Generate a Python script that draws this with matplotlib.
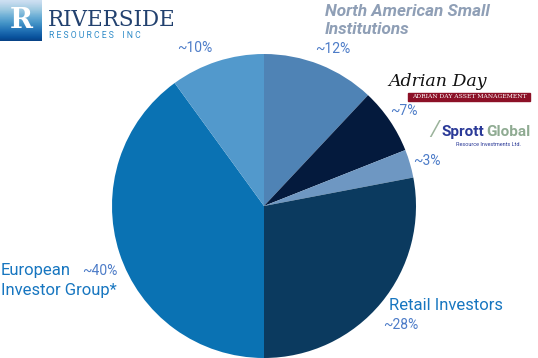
import numpy as np
import matplotlib.pyplot as plt
from matplotlib.patches import Rectangle

plt.rcParams['font.family'] = ['Roboto', 'DejaVu Sans']

# slices, clockwise from 12 o'clock
groups = ['North American Small Institutions', 'Adrian Day', 'Sprott Global',
          'Retail Investors', 'European Investor Group*', 'Other']
shares = [12, 7, 3, 28, 40, 10]
share_labels = ['~12%', '~7%', '~3%', '~28%', '~40%', '~10%']
colors = ['#4f83b5', '#041a3d', '#6e97c2', '#0b3a5f', '#0a72b3', '#5299cc']

W, H = 538, 358
fig = plt.figure(figsize=(W / 100, H / 100), dpi=100)

# pie centre (264, 206) px, radius 152 px
cx, cy, r = 264, 206, 152
ax = fig.add_axes([(cx - r) / W, (H - cy - r) / H, 2 * r / W, 2 * r / H])
ax.pie(shares, colors=colors, startangle=90, counterclock=False, radius=1,
       wedgeprops=dict(linewidth=0))
ax.set_xlim(-1, 1)
ax.set_ylim(-1, 1)
ax.set_aspect('equal')
ax.axis('off')


def px(x, y, s, **kw):
    fig.text(x / W, 1 - y / H, s, **kw)


pct_col = '#4d7cc8'
name_col = '#1776c0'

# category names
px(325, 11, 'North American Small', fontsize=12.3, style='italic', weight='bold',
   color='#8f9fb6', va='center')
px(325, 30, 'Institutions', fontsize=12.3, style='italic', weight='bold',
   color='#8f9fb6', va='center')
px(1, 270, 'European', fontsize=12, color=name_col, va='center')
px(1, 291, 'Investor Group*', fontsize=12, color=name_col, va='center')
px(389, 305, 'Retail Investors', fontsize=12, color=name_col, va='center')

# percentage labels
pos = [(315, 49), (390, 111), (413, 161), (383, 325), (82, 271), (177, 48)]
for (x, y), s in zip(pos, share_labels):
    px(x, y, s, fontsize=10, color=pct_col, va='center')

# Riverside logo (approximation)
lax = fig.add_axes([0, 1 - 41 / H, 42 / W, 41 / H])
grad = np.linspace(0, 1, 50).reshape(-1, 1)
lax.imshow(grad, cmap='Blues', aspect='auto', extent=[0, 1, 0, 1], vmin=-0.3, vmax=1.1)
lax.text(0.5, 0.5, 'R', color='white', fontsize=20, weight='bold', family='DejaVu Serif',
         ha='center', va='center')
lax.axis('off')
px(48, 20, 'RIVERSIDE', fontsize=15.5, family='DejaVu Serif', color='#22416f', va='center')
px(49, 35, 'R E S O U R C E S    I N C', fontsize=6.2, color='#2e8bc8', va='center')

# Adrian Day logo (approximation)
px(388, 82, 'Adrian Day', fontsize=12.5, family='DejaVu Serif', style='italic',
   color='#111111', va='center')
fig.patches.append(Rectangle((408 / W, 1 - 101 / H), 122 / W, 8 / H,
                             transform=fig.transFigure, color='#8c1026'))
px(469, 97, 'ADRIAN DAY ASSET MANAGEMENT', fontsize=4.3, family='DejaVu Serif',
   color='white', ha='center', va='center')

# Sprott Global logo (approximation)
px(430, 131, '/', fontsize=16, color='#9bb39b', va='center', style='italic')
px(441, 132, 'Sprott', fontsize=11, weight='bold', color='#2b3a98', va='center')
px(486, 132, 'Global', fontsize=11, weight='bold', color='#8fab92', va='center')
px(456, 144, 'Resource Investments Ltd.', fontsize=4, color='#2b3a98', va='center')

fig.savefig('out.png', dpi=100)
